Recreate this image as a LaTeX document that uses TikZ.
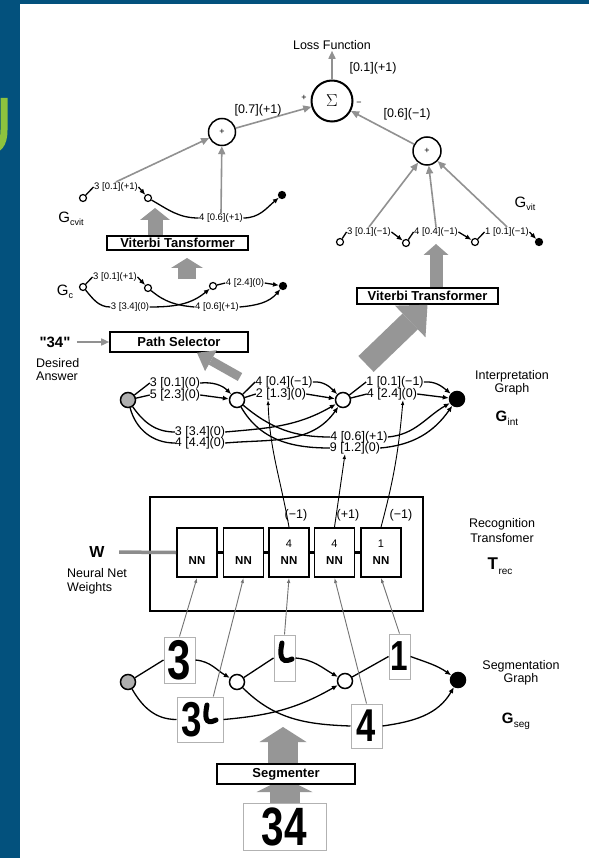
\documentclass[tikz,border=0pt]{standalone}
\usepackage{fontspec}
\setmainfont{Liberation Sans}
\newfontfamily\handfont{Liberation Sans}
\usepackage{graphicx}
\usetikzlibrary{arrows.meta,positioning}
\definecolor{slideblue}{RGB}{3,81,125}
\definecolor{slidegreen}{RGB}{141,194,62}
\definecolor{fatgray}{RGB}{150,150,150}
\definecolor{thingray}{RGB}{145,145,145}
\definecolor{startgray}{RGB}{175,175,175}
\newcommand{\gsub}[2]{#1\kern.3pt\raisebox{-3pt}{\fontsize{9}{9}\selectfont #2}}
\newcommand{\hand}[2]{\scalebox{0.75}[1]{\handfont\bfseries\fontsize{#1}{#1}\selectfont #2}}

\begin{document}
\begin{tikzpicture}[x=1pt, y=1pt,
  txt/.style={font=\fontsize{12.5}{14}\selectfont, inner sep=1pt},
  glab/.style={font=\fontsize{9.5}{10}\selectfont, inner sep=0.5pt},
  ilab/.style={font=\fontsize{12.5}{12}\selectfont, inner sep=0pt},
  stage/.style={draw=black, line width=1.6pt, fill=white,
                font=\bfseries\fontsize{13}{13}\selectfont, inner sep=0.5pt},
  sumnode/.style={circle, draw=black, line width=1.5pt, fill=white,
                  inner sep=0pt, minimum size=#1, font=\fontsize{9}{9}\selectfont},
  gnode/.style={circle, draw=black, line width=1.5pt, fill=#1,
                inner sep=0pt, minimum size=15pt},
  tnode/.style={circle, draw=black, line width=1.2pt, fill=#1,
                inner sep=0pt, minimum size=7pt},
  link/.style={draw=black, line width=1.3pt},
  linka/.style={link, -{Latex[length=6pt,width=5pt]}},
  feed/.style={draw=thingray, line width=1.6pt, -{Triangle[length=8pt,width=7pt]}},
  bigarrow/.style n args={3}{draw=fatgray, line width=#1,
                -{Triangle[width=#2,length=#3,line width=0pt]}},
  img/.style={draw=gray!60, line width=1pt, fill=white, inner sep=0pt},
  nnbox/.style={draw=black, line width=1.8pt, fill=white, minimum width=40pt,
                minimum height=49pt, inner sep=0pt, align=center,
                font=\bfseries\fontsize{11.5}{12}\selectfont},
  upline/.style={draw=black!55, line width=0.9pt, -{Latex[length=5pt,width=3.5pt]}},
  nnout/.style={draw=black, line width=0.9pt, -{Latex[length=5pt,width=3.5pt]}}
]
\useasboundingbox (0,0) rectangle (589,-858);
% slide frame
\fill[slideblue] (0,0) rectangle (589,-858);
\fill[white] (20,-4) rectangle (589,-858);
\draw[slidegreen, line width=7pt] (4,-98) -- (4,-130) .. controls (4,-145) and (-2,-150) .. (-10,-150);

% loss function and sums
\node[txt] (loss) at (332,-45) {Loss Function};
\node[circle, draw=black, line width=2pt, fill=white, minimum size=41pt, inner sep=0pt,
      font=\fontsize{17}{17}\selectfont] (sigma) at (332,-101) {$\Sigma$};
\node[sumnode=27pt] (plusL) at (222,-132) {+};
\node[sumnode=28pt] (plusR) at (427,-151) {+};
\draw[feed] (sigma) -- (loss);
\draw[feed] (plusL) -- (sigma);
\draw[feed] (plusR) -- (sigma);
\node[txt] (lossw) at (373,-68) {[0.1](+1)};
\node[txt] (plusLw) at (258,-110) {[0.7](+1)};
\node[txt] (plusRw) at (407,-114) {[0.6](−1)};
\node[font=\fontsize{9}{9}\selectfont] (sgnp) at (304,-98) {+};
\node[font=\fontsize{9}{9}\selectfont] (sgnm) at (359,-104) {−};

% G_cvit
\node[tnode=white] (cv1) at (83,-198) {};
\node[tnode=white] (cv2) at (148,-198) {};
\node[tnode=black] (cv3) at (282,-195) {};
\node[glab] (cvl1) at (116,-187) {3 [0.1](+1)};
\node[glab] (cvl2) at (221,-218) {4 [0.6](+1)};
\draw[link] (cv1) -- (cvl1.west);
\draw[linka] (cvl1.east) -- (cv2);
\draw[link] (cv2) to[out=-30,in=180] (cvl2.west);
\draw[linka] (cvl2.east) to[out=0,in=-140] (cv3);
\node[font=\fontsize{15}{15}\selectfont] (gcvit) at (71,-219) {\gsub{G}{cvit}};
\draw[feed] (cvl1.north) -- (plusL);
\draw[feed] (cvl2.north) -- (plusL);

% left Viterbi transformer
\node[stage, minimum width=141pt, minimum height=14pt] (vtL) at (177.5,-243) {Viterbi Tansformer};
\coordinate (cvitin) at (155,-208);
\draw[bigarrow={15pt}{30pt}{12pt}] (vtL.north -| cvitin) -- (cvitin);
\coordinate (gcout) at (187,-279);
\coordinate (vtLin) at (187,-258);
\draw[bigarrow={18pt}{32pt}{10pt}] (gcout) -- (vtLin);

% G_c
\node[tnode=white] (c1) at (83,-287) {};
\node[tnode=white] (c2) at (148,-288) {};
\node[tnode=white] (c3) at (213,-286) {};
\node[tnode=black] (c4) at (283,-286) {};
\node[glab] (cl1) at (115,-277) {3 [0.1](+1)};
\node[glab] (cl2) at (245,-283) {4 [2.4](0)};
\node[glab] (cl3) at (130,-307) {3 [3.4](0)};
\node[glab] (cl4) at (217,-307) {4 [0.6](+1)};
\draw[link] (c1) -- (cl1.west);
\draw[linka] (cl1.east) -- (c2);
\draw[link] (c3) -- (cl2.west);
\draw[linka] (cl2.east) -- (c4);
\draw[link] (c1) to[out=-50,in=180] (cl3.west);
\draw[linka] (cl3.east) to[out=0,in=-140] (c3);
\draw[link] (c2) to[out=-40,in=175] (cl4.west);
\draw[linka] (cl4.east) to[out=5,in=-130] (c4);
\node[font=\fontsize{15}{15}\selectfont] (gc) at (65,-292) {\gsub{G}{c}};

% G_vit
\node[tnode=white] (v1) at (340,-242) {};
\node[tnode=white] (v2) at (406,-243) {};
\node[tnode=white] (v3) at (475,-242) {};
\node[tnode=black] (v4) at (539,-242) {};
\node[glab] (vl1) at (369,-232) {3 [0.1](−1)};
\node[glab] (vl2) at (436,-232) {4 [0.4](−1)};
\node[glab] (vl3) at (507,-232) {1 [0.1](−1)};
\draw[link] (v1) -- (vl1.west);
\draw[linka] (vl1.east) -- (v2);
\draw[link] (v2) -- (vl2.west);
\draw[linka] (vl2.east) -- (v3);
\draw[link] (v3) -- (vl3.west);
\draw[linka] (vl3.east) -- (v4);
\draw[feed] (vl1.north) -- (plusR);
\draw[feed] (vl2.north) -- (plusR);
\draw[feed] (vl3.north) -- (plusR);
\node[font=\fontsize{15}{15}\selectfont] (gvit) at (525,-204) {\gsub{G}{vit}};

% right Viterbi transformer
\node[stage, minimum width=141pt, minimum height=16pt] (vtR) at (427.5,-296) {Viterbi Transformer};
\coordinate (vitin) at (436,-244);
\draw[bigarrow={13pt}{25pt}{11pt}] (vtR.north -| vitin) -- (vitin);
\coordinate (intout) at (366,-364);
\draw[bigarrow={22pt}{44pt}{24pt}] (intout) -- (vtR.south);

% path selector
\node[stage, minimum width=138pt, minimum height=20pt] (ps) at (179,-342) {Path Selector};
\node[font=\bfseries\fontsize{15}{15}\selectfont] (q34) at (55,-342) {\textquotedbl 34\textquotedbl};
\draw[feed, shorten <=3pt] (q34.east) -- (ps.west);
\node[txt, align=left, anchor=north west, font=\fontsize{12.5}{13}\selectfont] (desired) at (35,-357) {Desired\\Answer};
\coordinate (psin) at (240,-377);
\draw[bigarrow={9pt}{24pt}{16pt}] (psin) -- ([xshift=18pt]ps.south);

% interpretation graph
\node[gnode=startgray] (i1) at (128,-400) {};
\node[gnode=white] (i2) at (237,-400) {};
\node[gnode=white] (i3) at (343,-400) {};
\node[gnode=black] (i4) at (457,-399) {};
\node[ilab] (il1a) at (175,-383) {3 [0.1](0)};
\node[ilab] (il1b) at (175,-395) {5 [2.3](0)};
\node[ilab] (il2a) at (284,-382) {4 [0.4](−1)};
\node[ilab] (il2b) at (281,-394) {2 [1.3](0)};
\node[ilab] (il3a) at (395,-382) {1 [0.1](−1)};
\node[ilab] (il3b) at (392,-394) {4 [2.4](0)};
\node[ilab] (il4a) at (200,-432) {3 [3.4](0)};
\node[ilab] (il4b) at (200,-443) {4 [4.4](0)};
\node[ilab] (il5a) at (359,-437) {4 [0.6](+1)};
\node[ilab] (il5b) at (355,-448) {9 [1.2](0)};
\draw[link] (i1) -- (il1a.west);
\draw[link] (i1) -- (il1b.west);
\draw[linka] (il1a.east) to[out=5,in=135] (i2);
\draw[linka] (il1b.east) -- (i2);
\draw[link] (i2) -- (il2a.west);
\draw[link] (i2) -- (il2b.west);
\draw[linka] (il2a.east) to[out=5,in=135] (i3);
\draw[linka] (il2b.east) -- (i3);
\draw[link] (i3) -- (il3a.west);
\draw[link] (i3) -- (il3b.west);
\draw[linka] (il3a.east) to[out=5,in=140] (i4);
\draw[linka] (il3b.east) -- (i4);
\draw[link] (i1) to[out=-55,in=180] (il4a.west);
\draw[link] (i1) to[out=-75,in=180] (il4b.west);
\draw[linka] (il4a.east) to[out=5,in=-150] (i3);
\draw[linka] (il4b.east) to[out=5,in=-125] (i3);
\draw[link] (i2) to[out=-40,in=180] (il5a.west);
\draw[link] (i2) to[out=-60,in=180] (il5b.west);
\draw[linka] (il5a.east) to[out=5,in=-150] (i4);
\draw[linka] (il5b.east) to[out=5,in=-125] (i4);
\node[txt, align=center, font=\fontsize{12.5}{13}\selectfont] (intlab) at (512,-383) {Interpretation\\Graph};
\node[font=\fontsize{15}{15}\selectfont] (gint) at (507,-418) {\textbf{G}\kern.3pt\raisebox{-4pt}{\fontsize{10}{10}\selectfont int}};

% recognition transformer
\node[draw=black, line width=2pt, minimum width=273pt, minimum height=114pt, inner sep=0pt] (rec) at (286.5,-554) {};
\foreach \i/\x/\d in {1/197/\phantom{4}, 2/243.5/\phantom{4}, 3/289/4, 4/334.5/4, 5/381/1}
  \node[nnbox] (nn\i) at (\x,-552.5) {{\mdseries\fontsize{11}{11}\selectfont\d}\\[5pt]NN};
\foreach \a/\b in {1/2, 2/3, 3/4, 4/5}
  \draw[line width=2.5pt] (nn\a.east) -- (nn\b.west);
\node[txt] (o3) at (296,-515) {(−1)};
\node[txt] (o4) at (348,-515) {(+1)};
\node[txt] (o5) at (401,-515) {(−1)};
\node[font=\bfseries\fontsize{16}{16}\selectfont] (w) at (97,-552) {W};
\draw[draw=black!45, line width=3.5pt, shorten <=11pt] (w.east) -- (nn1.west);
\node[txt, align=left, anchor=north west, font=\fontsize{12.5}{14}\selectfont] (nnw) at (66,-567) {Neural Net\\Weights};
\node[txt, align=center, font=\fontsize{12.5}{14.5}\selectfont] (rtlab) at (502,-530.5) {Recognition\\Transfomer};
\node[font=\fontsize{17}{17}\selectfont] (trec) at (500,-566) {\textbf{T}\kern.5pt\raisebox{-5pt}{\fontsize{10}{10}\selectfont rec}};
\draw[nnout] (nn3.north) to[out=100,in=-88] ([xshift=-13pt]il2b.south);
\draw[nnout] (nn4.north) -- ([xshift=-10pt]il5b.south);
\draw[nnout] (nn5.north) to[out=75,in=-95] ([xshift=11pt]il3b.south);

% segmentation graph
\node[gnode=startgray] (s1) at (128,-682) {};
\node[gnode=white] (s2) at (237,-682) {};
\node[gnode=white] (s3) at (345,-681) {};
\node[gnode=black] (s4) at (458,-680) {};
\node[img, minimum width=31pt, minimum height=46pt] (b3) at (179.5,-660) {\hand{56}{3}};
\node[img, minimum width=21pt, minimum height=46pt] (bL) at (284.5,-658) {};
\node[img, minimum width=21pt, minimum height=45pt] (b1) at (399.5,-656.5) {\hand{42}{1}};
\node[img, minimum width=46pt, minimum height=45pt] (b3L) at (200,-719.5) {\hand{49}{3}\rule{16pt}{0pt}};
\node[img, minimum width=31pt, minimum height=44pt] (b4) at (366.5,-726) {\hand{46}{4}};
\draw[line width=5pt, line cap=round] (282,-643) .. controls (280,-652) and (279,-665) .. (292,-659);
\draw[line width=5pt, line cap=round] (207,-705) .. controls (205,-715) and (204,-726) .. (216,-720);
\draw[link] (s1) -- (b3.west);
\draw[linka] (b3.east) to[out=-5,in=150] (s2);
\draw[link] (s2) -- (bL.west);
\draw[linka] (bL.east) to[out=-5,in=150] (s3);
\draw[link] (s3) -- (b1.west);
\draw[linka] (b1.east) to[out=-20,in=145] (s4);
\draw[link] (s1) to[out=-60,in=180] (b3L.west);
\draw[linka] (b3L.east) to[out=5,in=-150] (s3);
\draw[link] (s2) to[out=-45,in=178] (b4.west);
\draw[linka] (b4.east) to[out=8,in=-120] (s4);
\draw[upline] (b3.north) -- (nn1.south);
\draw[upline] (b3L.60) -- (nn2.south);
\draw[upline] (bL.north) -- (nn3.south);
\draw[upline] (b4.north) -- (nn4.south);
\draw[upline] (b1.north) -- (nn5.south);
\node[txt, align=center, font=\fontsize{12.5}{13.5}\selectfont] (seglab) at (521,-673) {Segmentation\\Graph};
\node[font=\fontsize{15}{15}\selectfont] (gseg) at (516,-721) {\textbf{G}\kern.3pt\raisebox{-4pt}{\fontsize{10}{10}\selectfont seg}};

% segmenter and input image
\node[img, minimum width=83pt, minimum height=47pt] (b34) at (284.5,-826.5) {\hand{54}{34}};
\coordinate (segin) at (284.5,-778);
\draw[bigarrow={30pt}{56pt}{14pt}] (b34.north) -- (segin);
\node[stage, minimum width=138pt, minimum height=20pt] (seg) at (286,-774) {Segmenter};
\coordinate (segout) at (283,-727);
\draw[bigarrow={30pt}{47pt}{15pt}] (seg.north -| segout) -- (segout);
\end{tikzpicture}
\end{document}
